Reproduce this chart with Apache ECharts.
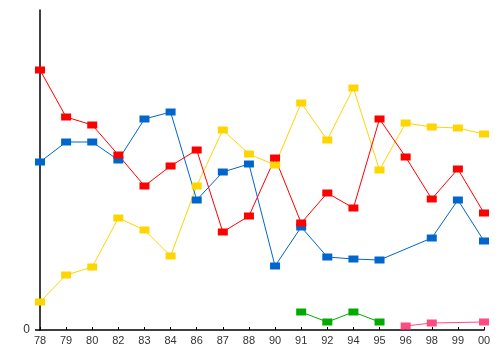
<!DOCTYPE html>
<html>
<head>
<meta charset="utf-8">
<script src="https://cdn.jsdelivr.net/npm/echarts@6/dist/echarts.min.js"></script>
<style>
  html, body { margin: 0; padding: 0; background: #ffffff; }
  #chart { width: 500px; height: 350px; }
</style>
</head>
<body>
<div id="chart"></div>
<script>
// Year labels along the bottom axis
const years = ['78','79','80','82','83','84','86','87','88','90','91','92','94','95','96','98','99','00'];

// Series values (null = no reading that year)
const redSeries    = [260, 213, 205, 175, 144, 164, 180, 98, 114, 172, 107, 137, 122, 211, 173, 131, 161, 117];
const blueSeries   = [168, 188, 188, 170, 211, 218, 130, 158, 166, 64, 103, 73, 71, 70, null, 92, 130, 89];
const yellowSeries = [28, 55, 63, 112, 100, 74, 144, 200, 176, 165, 227, 190, 242, 160, 207, 203, 202, 196];
const greenSeries  = [null, null, null, null, null, null, null, null, null, null, 18, 8, 18, 8, null, null, null, null];
const pinkSeries   = [null, null, null, null, null, null, null, null, null, null, null, null, null, null, 4, 7, null, 8];

const yTickValues = [0];

function lineSeries(data, color) {
  return {
    type: 'line',
    data: data,
    connectNulls: true,
    symbol: 'rect',
    symbolSize: [10, 7],
    showAllSymbol: true,
    lineStyle: { color: color, width: 1 },
    itemStyle: { color: color },
    emphasis: { disabled: true },
    animation: false
  };
}

const chart = echarts.init(document.getElementById('chart'), null, { renderer: 'canvas' });
chart.setOption({
  backgroundColor: '#ffffff',
  animation: false,
  grid: { left: 40, right: 16, top: 10, bottom: 20, containLabel: false },
  xAxis: {
    type: 'category',
    data: years,
    boundaryGap: false,
    axisLine: { show: true, lineStyle: { color: '#000000', width: 1.5 } },
    axisTick: { show: true, inside: true, length: 3, alignWithLabel: true, lineStyle: { color: '#000000' } },
    axisLabel: {
      interval: 0, color: '#333333', fontSize: 11, margin: 5,
      fontFamily: '"Liberation Sans Narrow", "Liberation Sans", Arial, sans-serif'
    },
    splitLine: { show: false }
  },
  yAxis: {
    type: 'value',
    min: 0,
    max: 320,
    axisLine: { show: true, onZero: false, lineStyle: { color: '#000000', width: 1.5 } },
    axisTick: { show: true, length: 5, customValues: yTickValues, lineStyle: { color: '#000000', width: 1.5 } },
    axisLabel: {
      customValues: yTickValues, color: '#333333', fontSize: 12, margin: 10,
      fontFamily: '"Liberation Sans", Arial, sans-serif'
    },
    splitLine: { show: false }
  },
  series: [
    lineSeries(yellowSeries, '#FFD500'),
    lineSeries(blueSeries, '#0066CC'),
    lineSeries(redSeries, '#FF0000'),
    lineSeries(greenSeries, '#00AA00'),
    lineSeries(pinkSeries, '#FF4A82')
  ]
});
</script>
</body>
</html>
